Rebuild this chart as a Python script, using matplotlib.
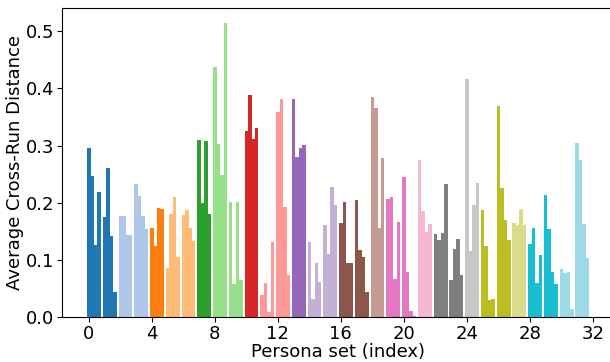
import matplotlib
matplotlib.use("Agg")
import matplotlib.pyplot as plt
import numpy as np

persona_sets = list(range(32))
distances = [
    [0.296, 0.247, 0.126, 0.219],
    [0.175, 0.261, 0.142, 0.043],
    [0.177, 0.177, 0.144, 0.144],
    [0.233, 0.212, 0.177, 0.154],
    [0.156, 0.125, 0.191, 0.189],
    [0.085, 0.181, 0.210, 0.105],
    [0.179, 0.188, 0.156, 0.133],
    [0.310, 0.200, 0.308, 0.181],
    [0.438, 0.303, 0.249, 0.515],
    [0.202, 0.058, 0.202, 0.064],
    [0.326, 0.389, 0.312, 0.331],
    [0.039, 0.060, 0.008, 0.132],
    [0.359, 0.382, 0.193, 0.074],
    [0.382, 0.280, 0.296, 0.301],
    [0.132, 0.032, 0.095, 0.062],
    [0.161, 0.111, 0.228, 0.196],
    [0.165, 0.202, 0.095, 0.095],
    [0.205, 0.118, 0.105, 0.044],
    [0.385, 0.366, 0.156, 0.279],
    [0.207, 0.210, 0.067, 0.167],
    [0.245, 0.079, 0.011, 0.002],
    [0.275, 0.186, 0.149, 0.163],
    [0.146, 0.135, 0.147, 0.233],
    [0.064, 0.119, 0.137, 0.074],
    [0.417, 0.116, 0.196, 0.235],
    [0.188, 0.125, 0.029, 0.032],
    [0.369, 0.226, 0.170, 0.135],
    [0.165, 0.161, 0.189, 0.161],
    [0.128, 0.156, 0.060, 0.109],
    [0.214, 0.154, 0.079, 0.057],
    [0.084, 0.077, 0.079, 0.014],
    [0.304, 0.274, 0.163, 0.103],
]

x_label = "Persona set (index)"
y_label = "Average Cross-Run Distance"

fig = plt.figure(figsize=(6.10, 3.62), dpi=100)
ax = fig.add_axes([0.1016, 0.1243, 0.9056, 0.8536])

width = 0.22
cmap = plt.cm.tab20
n = len(persona_sets)
for i, vals in zip(persona_sets, distances):
    color = cmap(i / (n - 1))
    xs = [i + j * width for j in range(len(vals))]
    ax.bar(xs, vals, width=width, color=color)

ax.set_xticks(np.arange(0, 33, 4))
ax.set_yticks(np.arange(0, 0.51, 0.1))
ax.tick_params(labelsize=13, pad=2)
ax.set_xlabel(x_label, fontsize=13, labelpad=0)
ax.set_ylabel(y_label, fontsize=13, labelpad=1)

fig.savefig("out.png", dpi=100)
